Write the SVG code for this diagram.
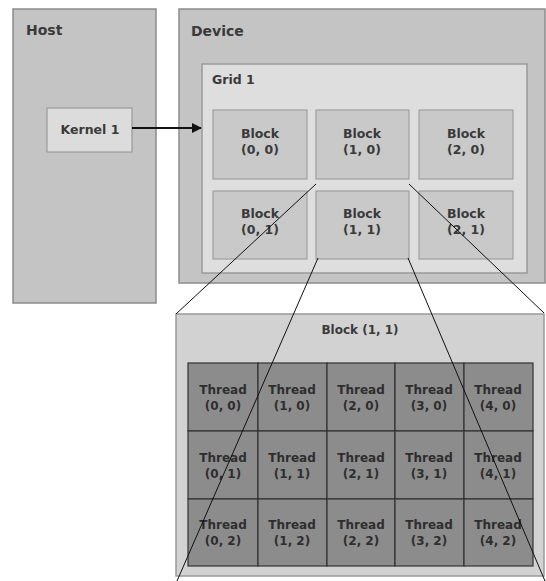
<svg xmlns="http://www.w3.org/2000/svg" width="546" height="581" viewBox="0 0 546 581">
<defs>
<style>
text{font-family:"DejaVu Sans",Verdana,sans-serif;font-weight:bold;font-size:12px;fill:#3a3a3a}
.c{text-anchor:middle}
.ttl{font-size:14px}
.b{font-size:12.5px}
.panel{fill:#c4c4c4;stroke:#8c8c8c;stroke-width:1.5}
.grid{fill:#dedede;stroke:#9a9a9a;stroke-width:1.5}
.blk{fill:#c9c9c9;stroke:#a0a0a0;stroke-width:1.2}
.thr{fill:#8c8c8c;stroke:#333;stroke-width:1.2}
.thr-t{fill:#2e2e2e}
.ln{stroke:#111;stroke-width:1;fill:none}
</style>
<marker id="ah" viewBox="0 0 10 10" refX="9" refY="5" markerWidth="5" markerHeight="5" orient="auto">
<path d="M0,0 L10,5 L0,10 z" fill="#111"/>
</marker>
</defs>
<rect width="546" height="581" fill="#fff"/>
<g id="host">
<rect class="panel" x="13" y="9" width="143" height="294"/>
<text class="ttl" x="26" y="35">Host</text>
</g>
<g id="device">
<rect class="panel" x="179" y="9" width="366" height="274"/>
<text class="ttl" x="191" y="36">Device</text>
</g>
<g id="grid1">
<rect class="grid" x="202" y="64" width="325" height="209"/>
<text class="b" x="212" y="84">Grid 1</text>
</g>
<g id="kernel1">
<rect fill="#dcdcdc" stroke="#9a9a9a" stroke-width="1.2" x="47" y="108" width="85" height="44"/>
<text class="c b" x="90" y="134">Kernel 1</text>
</g>
<g id="block-0-0"><rect class="blk" x="213" y="110" width="94" height="69"/><text class="c b" x="260" y="138">Block</text><text class="c b" x="260" y="154">(0, 0)</text></g>
<g id="block-1-0"><rect class="blk" x="316" y="110" width="93" height="69"/><text class="c b" x="362" y="138">Block</text><text class="c b" x="362" y="154">(1, 0)</text></g>
<g id="block-2-0"><rect class="blk" x="419" y="110" width="94" height="69"/><text class="c b" x="466" y="138">Block</text><text class="c b" x="466" y="154">(2, 0)</text></g>
<g id="block-0-1"><rect class="blk" x="213" y="191" width="94" height="68"/><text class="c b" x="260" y="218">Block</text><text class="c b" x="260" y="234">(0, 1)</text></g>
<g id="block-1-1"><rect class="blk" x="316" y="191" width="93" height="68"/><text class="c b" x="362" y="218">Block</text><text class="c b" x="362" y="234">(1, 1)</text></g>
<g id="block-2-1"><rect class="blk" x="419" y="191" width="94" height="68"/><text class="c b" x="466" y="218">Block</text><text class="c b" x="466" y="234">(2, 1)</text></g>
<g id="block-detail">
<rect fill="#d2d2d2" stroke="#9a9a9a" stroke-width="1.5" x="176" y="314" width="368" height="262"/>
<text class="c" x="360" y="334">Block (1, 1)</text>
</g>
<g id="threads">
<g id="t00"><rect class="thr" x="188" y="363" width="70" height="68"/><text class="c thr-t" x="223" y="394">Thread</text><text class="c thr-t" x="223" y="410">(0, 0)</text></g>
<g id="t10"><rect class="thr" x="258" y="363" width="69" height="68"/><text class="c thr-t" x="292" y="394">Thread</text><text class="c thr-t" x="292" y="410">(1, 0)</text></g>
<g id="t20"><rect class="thr" x="327" y="363" width="68" height="68"/><text class="c thr-t" x="361" y="394">Thread</text><text class="c thr-t" x="361" y="410">(2, 0)</text></g>
<g id="t30"><rect class="thr" x="395" y="363" width="69" height="68"/><text class="c thr-t" x="429" y="394">Thread</text><text class="c thr-t" x="429" y="410">(3, 0)</text></g>
<g id="t40"><rect class="thr" x="464" y="363" width="69" height="68"/><text class="c thr-t" x="498" y="394">Thread</text><text class="c thr-t" x="498" y="410">(4, 0)</text></g>
<g id="t01"><rect class="thr" x="188" y="431" width="70" height="68"/><text class="c thr-t" x="223" y="462">Thread</text><text class="c thr-t" x="223" y="478">(0, 1)</text></g>
<g id="t11"><rect class="thr" x="258" y="431" width="69" height="68"/><text class="c thr-t" x="292" y="462">Thread</text><text class="c thr-t" x="292" y="478">(1, 1)</text></g>
<g id="t21"><rect class="thr" x="327" y="431" width="68" height="68"/><text class="c thr-t" x="361" y="462">Thread</text><text class="c thr-t" x="361" y="478">(2, 1)</text></g>
<g id="t31"><rect class="thr" x="395" y="431" width="69" height="68"/><text class="c thr-t" x="429" y="462">Thread</text><text class="c thr-t" x="429" y="478">(3, 1)</text></g>
<g id="t41"><rect class="thr" x="464" y="431" width="69" height="68"/><text class="c thr-t" x="498" y="462">Thread</text><text class="c thr-t" x="498" y="478">(4, 1)</text></g>
<g id="t02"><rect class="thr" x="188" y="499" width="70" height="67"/><text class="c thr-t" x="223" y="529">Thread</text><text class="c thr-t" x="223" y="545">(0, 2)</text></g>
<g id="t12"><rect class="thr" x="258" y="499" width="69" height="67"/><text class="c thr-t" x="292" y="529">Thread</text><text class="c thr-t" x="292" y="545">(1, 2)</text></g>
<g id="t22"><rect class="thr" x="327" y="499" width="68" height="67"/><text class="c thr-t" x="361" y="529">Thread</text><text class="c thr-t" x="361" y="545">(2, 2)</text></g>
<g id="t32"><rect class="thr" x="395" y="499" width="69" height="67"/><text class="c thr-t" x="429" y="529">Thread</text><text class="c thr-t" x="429" y="545">(3, 2)</text></g>
<g id="t42"><rect class="thr" x="464" y="499" width="69" height="67"/><text class="c thr-t" x="498" y="529">Thread</text><text class="c thr-t" x="498" y="545">(4, 2)</text></g>
</g>
<g id="connectors">
<line x1="132" y1="128" x2="201" y2="128" stroke="#111" stroke-width="2" marker-end="url(#ah)"/>
<line class="ln" x1="316" y1="184" x2="176" y2="314"/>
<line class="ln" x1="409" y1="184" x2="544" y2="313"/>
<line class="ln" x1="318" y1="258" x2="177" y2="581"/>
<line class="ln" x1="408" y1="258" x2="545" y2="581"/>
</g>
</svg>
